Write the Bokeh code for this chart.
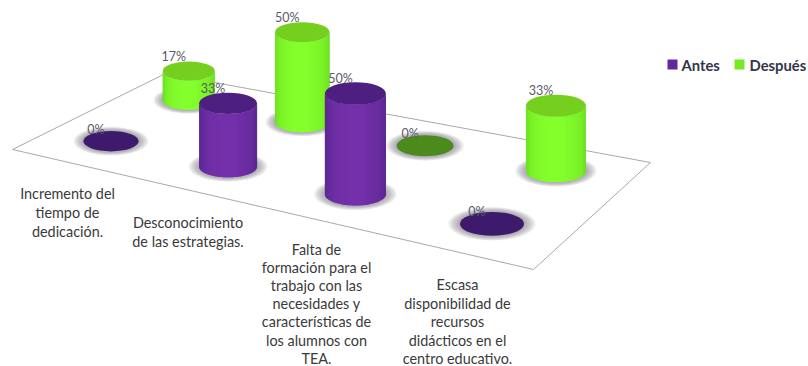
from bokeh.plotting import figure
from bokeh.models import Range1d
from bokeh.core.properties import value
from bokeh.embed import file_html
from bokeh.resources import INLINE
import math

# Chart values
categories = [
    ["Incremento del", "tiempo de", "dedicación."],
    ["Desconocimiento", "de las estrategias."],
    ["Falta de", "formación para el", "trabajo con las", "necesidades y",
     "características de", "los alumnos con", "TEA."],
    ["Escasa", "disponibilidad de", "recursos", "didácticos en el", "centro educativo."],
]
antes = [0, 33, 50, 0]
despues = [17, 50, 0, 33]
series_names = ["Antes", "Después"]

# Layout of the slanted floor: front-left, front-right, back-right, back-left
FLOOR = [(12, 149), (533, 269), (650, 162), (165, 73)]
U_POS = [0.133, 0.387, 0.637, 0.879]
V_POS = [0.25, 0.77]
LABEL_X = [67, 187.5, 316, 457]
LABEL_Y = [193, 222, 249, 284]
LINE_STEP = [19.1, 19.1, 18.1, 18.5]
BASE_WIDTH = 55.5
ELLIPSE_RATIO = 0.37
HEIGHT_PER_WIDTH = 0.033
STRIPS = 40

PALETTE = {
    "Antes": dict(edge=(70, 30, 125), mid=(116, 48, 170), top="#4c1f80", flat="#3d1a6b"),
    "Después": dict(edge=(92, 200, 24), mid=(132, 255, 44), top="#74cf1f", flat="#4d8a1d"),
}


def homography(quad):
    (x0, y0), (x1, y1), (x2, y2), (x3, y3) = quad
    sx, sy = x0 - x1 + x2 - x3, y0 - y1 + y2 - y3
    d1x, d1y, d2x, d2y = x1 - x2, y1 - y2, x3 - x2, y3 - y2
    det = d1x * d2y - d2x * d1y
    g = (sx * d2y - d2x * sy) / det
    h = (d1x * sy - sx * d1y) / det

    def project(u, v):
        w = g * u + h * v + 1
        px = ((x1 - x0 + g * x1) * u + (x3 - x0 + h * x3) * v + x0) / w
        py = ((y1 - y0 + g * y1) * u + (y3 - y0 + h * y3) * v + y0) / w
        return px, py, w

    return project


project = homography(FLOOR)

p = figure(width=808, height=366, output_backend="svg", toolbar_location=None,
           x_range=Range1d(0, 808), y_range=Range1d(366, 0),
           min_border=0, outline_line_color=None, background_fill_color="white",
           border_fill_color="white")
p.xaxis.visible = False
p.yaxis.visible = False
p.grid.visible = False

# Floor outline
floor_x = [c[0] for c in FLOOR] + [FLOOR[0][0]]
floor_y = [c[1] for c in FLOOR] + [FLOOR[0][1]]
p.line(floor_x, floor_y, line_color="#a9a9a9", line_width=1)


def mix(a, b, t):
    return "#%02x%02x%02x" % tuple(round(a[i] + (b[i] - a[i]) * t) for i in range(3))


def draw_cylinder(u, v, val, pal):
    cx, by, w = project(u, v)
    width = BASE_WIDTH / w
    r = width / 2
    ry = r * ELLIPSE_RATIO
    height = val * width * HEIGHT_PER_WIDTH
    ty = by - height

    # Soft shadow on the floor
    for k in range(7):
        s = 1.36 - k * 0.05
        p.ellipse([cx], [by], width=[width * s], height=[2 * ry * (s + 0.05)],
                  fill_color="#5f5f70", fill_alpha=0.09, line_color=None)

    if val == 0:
        p.ellipse([cx], [by], width=[width], height=[2 * ry],
                  fill_color=pal["flat"], line_color=None)
        return cx, by

    # Body shaded with narrow vertical strips, each overlapped by the next
    def arc(i):
        a = math.pi * (1 - min(i, STRIPS) / STRIPS)
        return cx + r * math.cos(a), ty + ry * math.sin(a), by + ry * math.sin(a)

    xs, ys, cols = [], [], []
    for i in range(STRIPS):
        x0, t0, b0 = arc(i)
        x1, t1, b1 = arc(i + 1)
        x2, t2, b2 = arc(i + 2)
        xs.append([x0, x1, x2, x2, x1, x0])
        ys.append([t0, t1, t2, b2, b1, b0])
        pos = (i + 0.5) / STRIPS
        t = min(1.0, math.sin(math.pi * pos) ** 0.55 * (1.0 if pos < 0.6 else 0.94))
        cols.append(mix(pal["edge"], pal["mid"], t))
    p.patches(xs, ys, fill_color=cols, line_color=None)
    p.ellipse([cx], [ty], width=[width], height=[2 * ry],
              fill_color=pal["top"], line_color=None)
    return cx, ty


# Rear row first, then the front row drawn over it
marks = []
for name, vals, v in [("Después", despues, V_POS[1]), ("Antes", antes, V_POS[0])]:
    for u, val in zip(U_POS, vals):
        cx, cy = draw_cylinder(u, v, val, PALETTE[name])
        marks.append((cx, cy, val))

# Value labels
p.text([m[0] - 15 for m in marks], [m[1] - 12 if m[2] == 0 else m[1] - 15 for m in marks],
       text=[f"{m[2]}%" for m in marks],
       text_font=value("Lato"), text_font_size="12.5px", text_color="#5a5a66",
       text_align="center", text_baseline="middle")

# Category labels
for lines, lx, ly, step in zip(categories, LABEL_X, LABEL_Y, LINE_STEP):
    p.text([lx] * len(lines), [ly + i * step for i in range(len(lines))], text=lines,
           text_font=value("Lato"), text_font_size="14.4px", text_color="#3a3a3a",
           text_align="center", text_baseline="middle")

# Legend
legend_x = [672, 739]
label_x = [681, 749]
for name, sx, tx in zip(series_names, legend_x, label_x):
    col = PALETTE[name]
    p.quad(left=[sx - 5], right=[sx + 5], top=[59], bottom=[69],
           fill_color=mix(col["edge"], col["mid"], 0.6), line_color=None)
    p.text([tx], [64], text=[name], text_font=value("Lato"), text_font_size="14.8px",
           text_font_style="bold", text_color="#35354a", text_align="left",
           text_baseline="middle")

open("out.html", "w").write(file_html(p, INLINE))
